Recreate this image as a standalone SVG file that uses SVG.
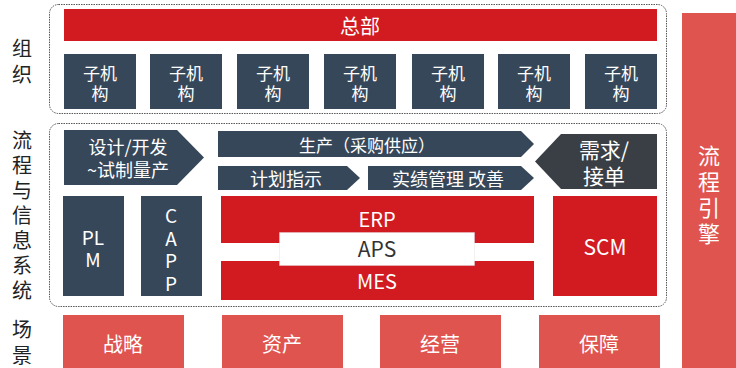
<svg xmlns="http://www.w3.org/2000/svg" width="736" height="368" viewBox="0 0 736 368">
<style>
text{font-family:"Noto Sans CJK SC","Microsoft YaHei",sans-serif;text-anchor:middle;dominant-baseline:central}
.w{fill:#ffffff}
.k{fill:#222222;font-size:20px}
.dark{fill:#37475a}
.red{fill:#d21b21}
.pink{fill:#e0544f}
.grp{fill:none;stroke:#555;stroke-width:1;stroke-dasharray:1.5 1}
</style>
<rect width="736" height="368" fill="#ffffff"/>
<g id="labels">
<text class="k" x="22" y="47">组</text><text class="k" x="22" y="73">织</text>
<text class="k" x="22" y="139">流</text><text class="k" x="22" y="164">程</text><text class="k" x="22" y="189">与</text><text class="k" x="22" y="214">信</text><text class="k" x="22" y="239">息</text><text class="k" x="22" y="264">系</text><text class="k" x="22" y="289">统</text>
<text class="k" x="22" y="328">场</text><text class="k" x="22" y="354" font-size="19">景</text>
</g>
<g id="groups">
<rect class="grp" x="49.5" y="4.5" width="617" height="109" rx="9"/>
<rect class="grp" x="49.5" y="123.5" width="617" height="183" rx="9"/>
</g>
<g id="hq"><rect class="red" x="64" y="9" width="593" height="32"/><text class="w" x="360" y="25" font-size="20">总部</text></g>
<g id="sub1"><rect class="dark" x="64" y="54" width="72" height="55"/><text class="w" x="100" y="72" font-size="17">子机</text><text class="w" x="100" y="92" font-size="17">构</text></g>
<g id="sub2"><rect class="dark" x="150" y="54" width="72" height="55"/><text class="w" x="186" y="72" font-size="17">子机</text><text class="w" x="186" y="92" font-size="17">构</text></g>
<g id="sub3"><rect class="dark" x="237" y="54" width="72" height="55"/><text class="w" x="273" y="72" font-size="17">子机</text><text class="w" x="273" y="92" font-size="17">构</text></g>
<g id="sub4"><rect class="dark" x="324" y="54" width="72" height="55"/><text class="w" x="360" y="72" font-size="17">子机</text><text class="w" x="360" y="92" font-size="17">构</text></g>
<g id="sub5"><rect class="dark" x="412" y="54" width="72" height="55"/><text class="w" x="448" y="72" font-size="17">子机</text><text class="w" x="448" y="92" font-size="17">构</text></g>
<g id="sub6"><rect class="dark" x="498" y="54" width="72" height="55"/><text class="w" x="534" y="72" font-size="17">子机</text><text class="w" x="534" y="92" font-size="17">构</text></g>
<g id="sub7"><rect class="dark" x="585" y="54" width="72" height="55"/><text class="w" x="621" y="72" font-size="17">子机</text><text class="w" x="621" y="92" font-size="17">构</text></g>
<g id="engine"><rect class="pink" x="682" y="13" width="54" height="355"/>
<text class="w" x="709" y="154" font-size="22">流</text><text class="w" x="709" y="180" font-size="22">程</text><text class="w" x="709" y="206" font-size="22">引</text><text class="w" x="709" y="232" font-size="22">擎</text></g>
<g id="design"><polygon class="dark" points="64,130 177,130 204,157.5 177,185 64,185"/><text class="w" x="128" y="146" font-size="18">设计/开发</text><text class="w" x="128" y="169" font-size="18">~试制量产</text></g>
<g id="production"><polygon class="dark" points="218,131 521,131 534,144 521,157 218,157"/><text class="w" x="367" y="144" font-size="17">生产（采购供应）</text></g>
<g id="plan"><polygon class="dark" points="218,166 347,166 360,178 347,190 218,190"/><text class="w" x="286" y="178" font-size="18">计划指示</text></g>
<g id="perf"><polygon class="dark" points="368,166 521,166 534,178 521,190 368,190"/><text class="w" x="448" y="178" font-size="18">实绩管理 改善</text></g>
<g id="demand"><polygon fill="#3a3f45" points="657,134 561,134 535,161.5 561,189 657,189"/><text class="w" x="604" y="149" font-size="21">需求/</text><text class="w" x="604" y="175" font-size="21">接单</text></g>
<g id="plm"><rect class="dark" x="63" y="196" width="61" height="100"/><text class="w" x="93" y="236" font-size="19">PL</text><text class="w" x="93" y="258" font-size="19">M</text></g>
<g id="capp"><rect class="dark" x="141" y="196" width="61" height="100"/><text class="w" x="171" y="214" font-size="19">C</text><text class="w" x="171" y="237" font-size="19">A</text><text class="w" x="171" y="259" font-size="19">P</text><text class="w" x="171" y="282" font-size="19">P</text></g>
<g id="erp"><rect class="red" x="221" y="196" width="313" height="47"/><text class="w" x="377" y="218" font-size="20">ERP</text></g>
<g id="mes"><rect class="red" x="221" y="261" width="313" height="39"/><text class="w" x="377" y="280" font-size="20">MES</text></g>
<g id="aps"><rect x="279.5" y="232.5" width="195" height="33" fill="#ffffff" stroke="#dddddd" stroke-width="0.8" stroke-dasharray="1 1"/><text x="377" y="248" font-size="21" fill="#333333">APS</text></g>
<g id="scm"><rect class="red" x="553" y="196" width="104" height="100"/><text class="w" x="605" y="246" font-size="21">SCM</text></g>
<g id="s1"><rect class="pink" x="63" y="315" width="121" height="53"/><text class="w" x="123" y="343" font-size="20">战略</text></g>
<g id="s2"><rect class="pink" x="222" y="315" width="121" height="53"/><text class="w" x="282" y="343" font-size="20">资产</text></g>
<g id="s3"><rect class="pink" x="380" y="315" width="121" height="53"/><text class="w" x="440" y="343" font-size="20">经营</text></g>
<g id="s4"><rect class="pink" x="539" y="315" width="121" height="53"/><text class="w" x="599" y="343" font-size="20">保障</text></g>
<g id="connectors"></g>
</svg>
